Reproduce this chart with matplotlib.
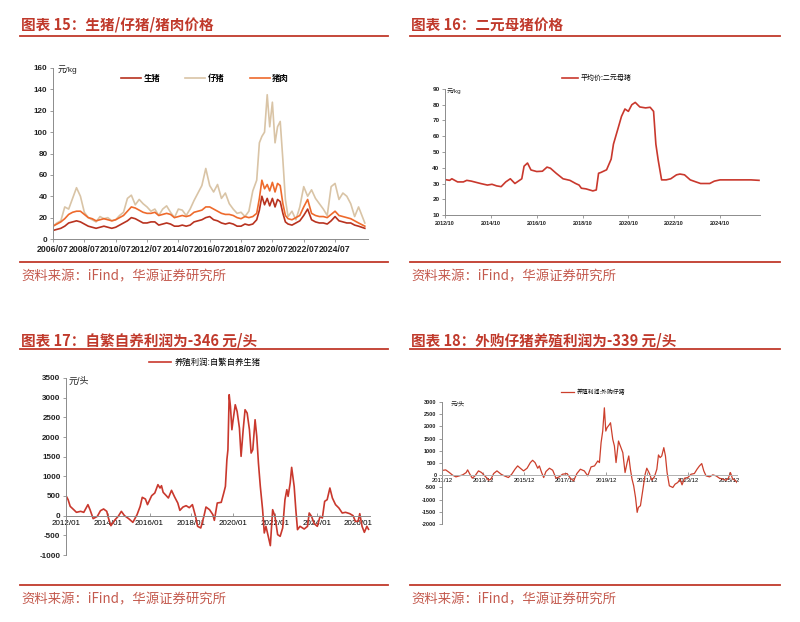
import matplotlib
matplotlib.use("Agg")
import matplotlib.pyplot as plt
from matplotlib.lines import Line2D

plt.rcParams['font.family'] = ['Liberation Sans', 'Noto Sans CJK SC']
plt.rcParams['axes.unicode_minus'] = False

W, H = 800, 622
RED = '#C0392B'
SRC_RED = '#C45A4E'

# ---- 图表15 data (year fraction) ----
t15 = [2006.50, 2006.75, 2007.00, 2007.25, 2007.50, 2007.75, 2008.00, 2008.25, 2008.50, 2008.75,
       2009.00, 2009.25, 2009.50, 2009.75, 2010.00, 2010.25, 2010.50, 2010.75, 2011.00, 2011.25,
       2011.50, 2011.75, 2012.00, 2012.25, 2012.50, 2012.75, 2013.00, 2013.25, 2013.50, 2013.75,
       2014.00, 2014.25, 2014.50, 2014.75, 2015.00, 2015.25, 2015.50, 2015.75, 2016.00, 2016.25,
       2016.50, 2016.75, 2017.00, 2017.25, 2017.50, 2017.75, 2018.00, 2018.25, 2018.50, 2018.75,
       2019.00, 2019.25, 2019.50, 2019.67, 2019.83, 2020.00, 2020.17, 2020.33, 2020.50, 2020.67,
       2020.83, 2021.00, 2021.17, 2021.33, 2021.50, 2021.75, 2022.00, 2022.25, 2022.50, 2022.75,
       2023.00, 2023.25, 2023.50, 2023.75, 2024.00, 2024.25, 2024.50, 2024.75, 2025.00, 2025.25,
       2025.50, 2025.75, 2026.00, 2026.40]
hog = [8, 9, 10, 12, 15, 16, 17, 16, 14, 12,
       11, 10, 11, 12, 11, 10, 11, 13, 15, 17,
       20, 19, 17, 15, 15, 16, 16, 13, 14, 15,
       14, 12, 12, 13, 12, 13, 16, 17, 18, 20,
       21, 18, 17, 15, 14, 15, 14, 12, 12, 14,
       13, 14, 18, 27, 40, 32, 38, 31, 38, 30,
       37, 35, 24, 16, 14, 13, 15, 17, 22, 28,
       18, 16, 15, 15, 14, 17, 21, 17, 16, 15,
       15, 13, 12, 10]
piglet = [12, 15, 17, 30, 28, 38, 48, 40, 25, 20,
          18, 16, 21, 19, 20, 17, 18, 22, 25, 38,
          41, 32, 37, 33, 30, 26, 28, 22, 28, 31,
          25, 20, 28, 27, 22, 28, 36, 43, 50, 66,
          50, 44, 51, 38, 43, 33, 28, 24, 25, 21,
          26, 45, 55, 90, 96, 100, 135, 105, 128, 90,
          105, 110, 74, 37, 21, 26, 18, 30, 49, 40,
          46, 38, 33, 28, 22, 49, 52, 37, 43, 40,
          33, 21, 30, 15]
pork = [12, 14, 16, 19, 23, 25, 26, 26, 23, 20,
        19, 17, 18, 19, 18, 17, 18, 20, 22, 26,
        30, 29, 27, 25, 24, 24, 25, 22, 23, 24,
        23, 20, 21, 22, 21, 22, 25, 26, 27, 30,
        30, 28, 26, 24, 23, 23, 22, 20, 19, 21,
        20, 21, 24, 38, 55, 47, 51, 45, 53, 44,
        52, 50, 33, 22, 19, 18, 20, 22, 30, 37,
        24, 22, 21, 21, 20, 23, 26, 22, 21, 20,
        19, 17, 15, 12]
ticks15 = [2006.5 + 2 * i for i in range(10)]
labels15 = ['2006/07', '2008/07', '2010/07', '2012/07', '2014/07',
            '2016/07', '2018/07', '2020/07', '2022/07', '2024/07']

# ---- 图表16 data ----
t16 = [2012.75, 2012.95, 2013.05, 2013.3, 2013.55, 2013.7, 2013.9, 2014.3, 2014.6, 2014.8,
       2015.0, 2015.2, 2015.4, 2015.6, 2015.8, 2016.0, 2016.1, 2016.2, 2016.35, 2016.5,
       2016.75, 2017.0, 2017.2, 2017.35, 2017.6, 2017.9, 2018.2, 2018.45, 2018.6, 2018.7,
       2018.9, 2019.2, 2019.35, 2019.45, 2019.55, 2019.8, 2020.0, 2020.1, 2020.2, 2020.3,
       2020.45, 2020.6, 2020.75, 2020.9, 2021.05, 2021.25, 2021.5, 2021.7, 2021.85, 2021.95,
       2022.05, 2022.2, 2022.4, 2022.6, 2022.85, 2023.0, 2023.2, 2023.45, 2023.7, 2023.9,
       2024.1, 2024.3, 2024.5, 2024.75, 2025.2, 2025.7, 2026.1, 2026.45]
sow = [32.5, 32, 33, 31, 31, 32, 31.5, 30, 29, 29.5,
       28.5, 28, 31, 33, 30, 32, 33, 41, 43, 38.6,
       37.6, 37.8, 40.4, 39.7, 36.5, 33, 32, 30, 29, 27,
       26.6, 25.3, 25.9, 36.5, 37, 38.7, 45.5, 55, 60, 65,
       72.6, 77.3, 75.8, 80, 81.5, 78.6, 78, 78.4, 75.8, 55,
       45, 32.3, 32.3, 33, 35.5, 36, 35.5, 32.3, 31, 30,
       30, 30, 31.5, 32.3, 32.3, 32.3, 32.3, 32]
ticks16 = [2012.75 + 2 * i for i in range(7)]
labels16 = ['2012/10', '2014/10', '2016/10', '2018/10', '2020/10', '2022/10', '2024/10']

# ---- 图表17 data ----
t17 = [2012.0, 2012.1, 2012.2, 2012.37, 2012.5, 2012.7, 2012.85, 2013.05, 2013.15, 2013.3,
       2013.5, 2013.65, 2013.8, 2013.95, 2014.03, 2014.15, 2014.35, 2014.5, 2014.65, 2014.8,
       2015.0, 2015.2, 2015.4, 2015.55, 2015.65, 2015.8, 2015.9, 2016.1, 2016.25, 2016.4,
       2016.5, 2016.57, 2016.65, 2016.8, 2016.9, 2017.05, 2017.2, 2017.35, 2017.45, 2017.6,
       2017.75, 2017.9, 2018.05, 2018.2, 2018.3, 2018.45, 2018.6, 2018.7, 2018.87, 2019.03,
       2019.1, 2019.24, 2019.43, 2019.55, 2019.63, 2019.7, 2019.75, 2019.81, 2019.87, 2019.94,
       2020.0, 2020.1, 2020.19, 2020.3, 2020.38, 2020.48, 2020.57, 2020.67, 2020.78, 2020.86,
       2020.94, 2021.05, 2021.13, 2021.21, 2021.3, 2021.41, 2021.49, 2021.57, 2021.68, 2021.78,
       2021.89, 2022.0, 2022.13, 2022.25, 2022.37, 2022.48, 2022.57, 2022.63, 2022.73, 2022.8,
       2022.92, 2023.0, 2023.08, 2023.2, 2023.4, 2023.56, 2023.64, 2023.75, 2023.88, 2024.03,
       2024.16, 2024.27, 2024.38, 2024.5, 2024.63, 2024.75, 2024.9, 2025.06, 2025.22, 2025.38,
       2025.58, 2025.74, 2025.85, 2025.98, 2026.06, 2026.17, 2026.28, 2026.4, 2026.48]
profit_self = [508, 407, 237, 152, 85, 110, 85, 280, 152, -76,
               -17, 127, 170, 110, -59, -254, -102, -17, 110, 0,
               -76, -170, 25, 237, 466, 423, 280, 508, 576, 788,
               703, 762, 593, 508, 449, 644, 474, 322, 135, 220,
               254, 203, 280, -17, -271, -313, -17, 220, 152, 25,
               -119, 322, 339, 576, 745, 1423, 1677, 3075, 2778, 2185,
               2439, 2820, 2651, 2228, 1508, 2185, 2693, 2609, 2185, 1592,
               1677, 2439, 2016, 1338, 745, 152, -440, -271, -525, -762,
               152, -17, -483, -525, -313, 407, 661, 491, 830, 1228,
               745, 152, -356, -271, -339, -271, 68, -17, -203, -271,
               -17, -59, 364, 407, 703, 449, 280, 195, 68, 85,
               51, 0, -144, -144, 51, -271, -423, -271, -346]
ticks17 = [2012.0 + 2 * i for i in range(8)]
labels17 = ['2012/01', '2014/01', '2016/01', '2018/01', '2020/01', '2022/01', '2024/01', '2026/01']

# ---- 图表18 data ----
t18 = [2012.0, 2012.1, 2012.28, 2012.44, 2012.6, 2012.77, 2012.93, 2013.1, 2013.17, 2013.28,
       2013.4, 2013.53, 2013.7, 2013.85, 2014.0, 2014.12, 2014.18, 2014.31, 2014.44, 2014.6,
       2014.8, 2014.96, 2015.16, 2015.32, 2015.48, 2015.61, 2015.74, 2015.9, 2016.07, 2016.23,
       2016.34, 2016.46, 2016.59, 2016.67, 2016.78, 2016.88, 2016.99, 2017.16, 2017.32, 2017.48,
       2017.64, 2017.8, 2018.02, 2018.18, 2018.34, 2018.5, 2018.67, 2018.86, 2019.03, 2019.19,
       2019.36, 2019.52, 2019.6, 2019.68, 2019.76, 2019.84, 2019.91, 2019.97, 2020.09, 2020.14,
       2020.25, 2020.33, 2020.41, 2020.53, 2020.62, 2020.74, 2020.85, 2020.95, 2021.03, 2021.11,
       2021.19, 2021.27, 2021.36, 2021.44, 2021.5, 2021.6, 2021.71, 2021.83, 2021.91, 2022.04,
       2022.15, 2022.28, 2022.4, 2022.48, 2022.56, 2022.64, 2022.74, 2022.82, 2022.9, 2023.01,
       2023.18, 2023.29, 2023.42, 2023.53, 2023.63, 2023.75, 2023.91, 2024.07, 2024.23, 2024.36,
       2024.48, 2024.59, 2024.69, 2024.8, 2024.97, 2025.13, 2025.29, 2025.45, 2025.62, 2025.78,
       2025.89, 2025.99, 2026.1, 2026.22, 2026.35]
profit_buy = [204, 218, 109, 0, -68, -27, 14, 109, 218, 41,
              -122, -27, 177, 109, -27, -122, -204, -163, 68, 177,
              41, -27, -95, 41, 245, 381, 286, 177, 286, 517,
              612, 517, 286, 381, 109, -95, 150, 286, 204, -122,
              -68, 41, 68, -122, -231, 68, 245, 177, -27, 340,
              381, 585, 517, 1333, 1809, 2761, 1809, 1945, 2081, 2149,
              1469, 1197, 517, 1401, 1197, 925, 109, 517, 789, 245,
              -163, -435, -911, -1523, -1319, -1251, -639, 41, 286, 68,
              -204, -68, 245, 830, 721, 789, 1129, 789, 109, -435,
              -503, -367, -299, -163, -394, -122, -95, 41, 68, 245,
              381, 476, 177, -27, -68, 14, -27, -122, -163, -204,
              -122, 109, -163, -204, -339]
ticks18 = [2011.92 + 2 * i for i in range(8)]
labels18 = ['2011/12', '2013/12', '2015/12', '2017/12', '2019/12', '2021/12', '2023/12', '2025/12']


def fx(px):
    return px / W


def fy(py):
    return 1 - py / H


def add_axes_px(fig, left, top, right, bottom):
    return fig.add_axes([fx(left), fy(bottom), (right - left) / W, (bottom - top) / H])


def hrule(fig, x0, x1, y, lw=1.3):
    fig.add_artist(Line2D([fx(x0), fx(x1)], [fy(y), fy(y)], color=RED, lw=lw,
                          transform=fig.transFigure))


def panel_frame(fig, x0, x1, title, y_title, y_rule, y_src_rule, y_src):
    fig.text(fx(x0 + 1), fy(y_title), title, fontsize=10.5, fontweight='bold',
             color=RED, family=['Noto Sans CJK SC'], va='center', ha='left')
    hrule(fig, x0, x1, y_rule)
    hrule(fig, x0, x1, y_src_rule)
    fig.text(fx(x0 + 1), fy(y_src), '资料来源：iFind，华源证券研究所', fontsize=9.6,
             color=SRC_RED, family=['Noto Sans CJK SC'], va='center', ha='left')


def style_axes(ax, fs_y, fs_x, tick_len=2):
    for s in ['top', 'right']:
        ax.spines[s].set_visible(False)
    for s in ['left', 'bottom']:
        ax.spines[s].set_color('#8c8c8c')
        ax.spines[s].set_linewidth(0.7)
    ax.tick_params(axis='y', labelsize=fs_y, length=tick_len, width=0.6, color='#8c8c8c', pad=2)
    ax.tick_params(axis='x', labelsize=fs_x, length=tick_len, width=0.6, color='#8c8c8c', pad=2)
    for lab in ax.get_xticklabels() + ax.get_yticklabels():
        lab.set_fontweight('bold')
        lab.set_color('#222222')


fig = plt.figure(figsize=(W / 100, H / 100), dpi=100)

# frames
panel_frame(fig, 20, 388, '图表 15：生猪/仔猪/猪肉价格', 25, 36, 262, 276)
panel_frame(fig, 410, 780, '图表 16：二元母猪价格', 25, 36, 262, 276)
panel_frame(fig, 20, 388, '图表 17：自繁自养利润为-346 元/头', 340, 349, 585, 599)
panel_frame(fig, 410, 780, '图表 18：外购仔猪养殖利润为-339 元/头', 340, 349, 585, 599)

# ---- chart 15 ----
ax1 = add_axes_px(fig, 53, 68, 368, 239)
ax1.plot(t15, hog, color='#B8321F', lw=1.2, label='生猪')
ax1.plot(t15, piglet, color='#D9C4A6', lw=1.2, label='仔猪')
ax1.plot(t15, pork, color='#EE6A2C', lw=1.2, label='猪肉')
ax1.set_ylim(0, 160)
ax1.set_xlim(2006.5, 2006.5 + 315 / 15.67)
ax1.set_yticks(range(0, 161, 20))
ax1.set_xticks(ticks15)
ax1.set_xticklabels(labels15)
style_axes(ax1, 5.8, 6.3)
ax1.text(fx(58), fy(70), '元/kg', transform=fig.transFigure, fontsize=6, va='center',
         ha='left', color='#222222')
ax1.legend(loc='center', bbox_to_anchor=(fx(205), fy(78)), bbox_transform=fig.transFigure,
           ncol=3, frameon=False, handlelength=2.4, handletextpad=0.3,
           columnspacing=3.0, prop={'family': ['Noto Sans CJK SC'], 'size': 6, 'weight': 'bold'})

# ---- chart 16 ----
ax2 = add_axes_px(fig, 445, 89, 760, 215)
ax2.plot(t16, sow, color='#C9382D', lw=1.2, label='平均价:二元母猪')
ax2.set_ylim(10, 90)
ax2.set_xlim(2012.75, 2012.75 + 315 / 22.92)
ax2.set_yticks(range(10, 91, 10))
ax2.set_xticks(ticks16)
ax2.set_xticklabels(labels16)
style_axes(ax2, 4.6, 4.0)
ax2.text(fx(447), fy(91), '元/kg', transform=fig.transFigure, fontsize=4.5, va='center',
         ha='left', color='#222222')
ax2.legend(loc='center', bbox_to_anchor=(fx(597), fy(78)), bbox_transform=fig.transFigure,
           frameon=False, handlelength=2.3, handletextpad=0.4,
           prop={'family': ['Noto Sans CJK SC'], 'size': 5})

# ---- chart 17 ----
ax3 = add_axes_px(fig, 66, 378, 370, 555)
ax3.plot(t17, profit_self, color='#C9382D', lw=1.2, label='养殖利润:自繁自养生猪')
ax3.set_ylim(-1000, 3500)
ax3.set_xlim(2012.0, 2026.55)
ax3.set_yticks(range(-1000, 3501, 500))
ax3.set_xticks(ticks17)
ax3.set_xticklabels(labels17)
style_axes(ax3, 5.8, 5.8)
ax3.spines['bottom'].set_position(('data', 0))
ax3.tick_params(axis='x', direction='in', pad=3)
ax3.text(fx(69), fy(381), '元/头', transform=fig.transFigure, fontsize=6.5, va='center',
         ha='left', color='#222222')
ax3.legend(loc='center', bbox_to_anchor=(fx(205), fy(362)), bbox_transform=fig.transFigure,
           frameon=False, handlelength=2.6, handletextpad=0.4,
           prop={'family': ['Noto Sans CJK SC'], 'size': 6})

# ---- chart 18 ----
ax4 = add_axes_px(fig, 442, 402, 737, 524)
ax4.plot(t18, profit_buy, color='#CC3F2C', lw=0.9, label='养殖利润:外购仔猪')
ax4.set_ylim(-2000, 3000)
ax4.set_xlim(2011.92, 2011.92 + 295 / 20.5)
ax4.set_yticks(range(-2000, 3001, 500))
ax4.set_xticks(ticks18)
ax4.set_xticklabels(labels18)
style_axes(ax4, 4.0, 4.2)
ax4.spines['bottom'].set_position(('data', 0))
ax4.spines['bottom'].set_color('#b0b0b0')
ax4.tick_params(axis='x', direction='in', pad=2)
ax4.text(fx(451), fy(404), '元/头', transform=fig.transFigure, fontsize=4.5, va='center',
         ha='left', color='#222222')
ax4.legend(loc='center', bbox_to_anchor=(fx(593), fy(392)), bbox_transform=fig.transFigure,
           frameon=False, handlelength=2.3, handletextpad=0.4,
           prop={'family': ['Noto Sans CJK SC'], 'size': 4.2})

fig.savefig('out.png', dpi=100)
